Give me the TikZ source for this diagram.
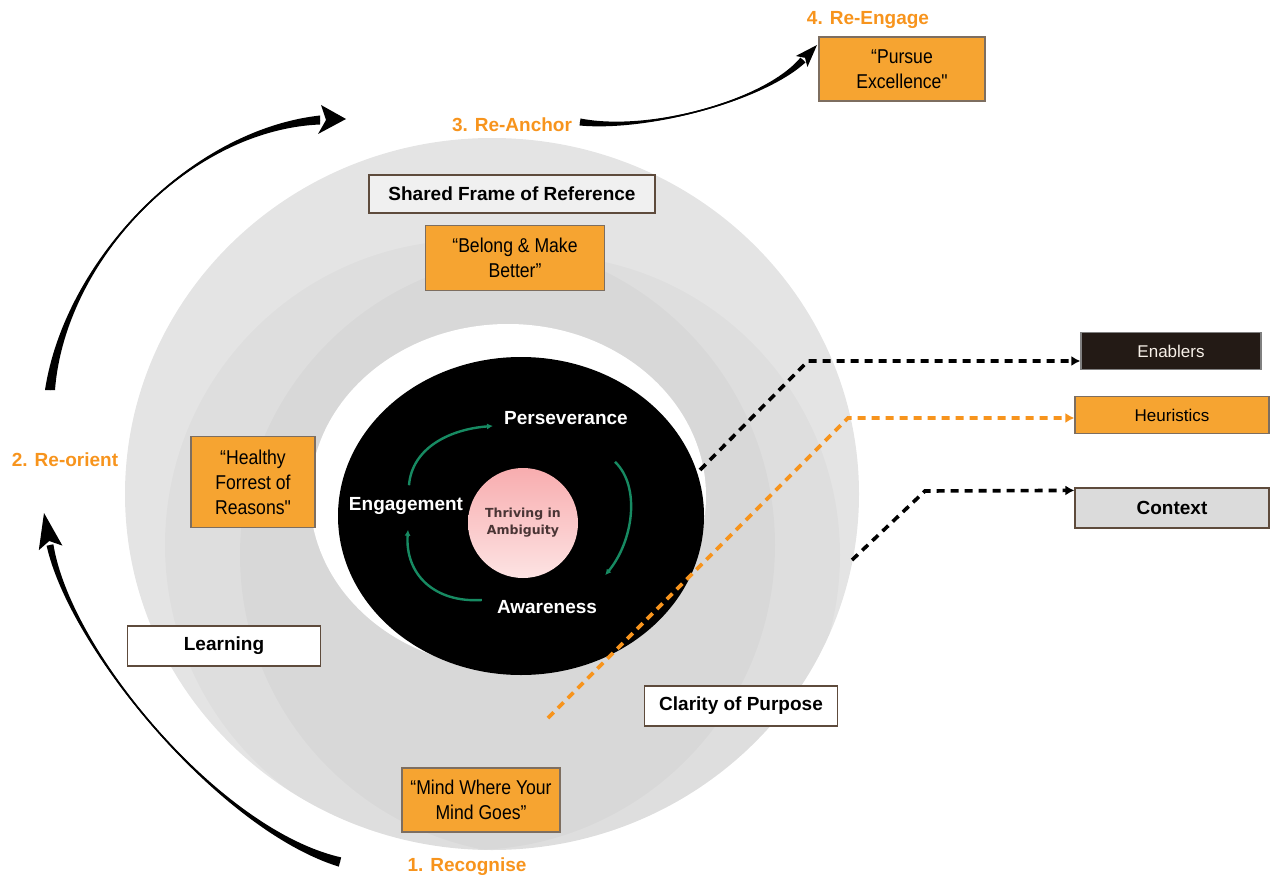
\documentclass[tikz,border=0pt]{standalone}
\usepackage{fontspec}
\setmainfont{Liberation Sans}
\newfontfamily\widesans{DejaVu Sans}
\newfontfamily\narrowsans[FakeStretch=0.88]{Liberation Sans}
\usetikzlibrary{shapes,arrows,arrows.meta}
\usetikzlibrary{calc}

\definecolor{stepor}{HTML}{F7941D}
\definecolor{boxor}{HTML}{F6A431}
\definecolor{boxedge}{HTML}{5E4B3C}
\definecolor{oredge}{HTML}{7D6E60}
\definecolor{ringgrey}{HTML}{E4E4E4}
\definecolor{cyclegreen}{HTML}{178A62}
\definecolor{darkbox}{HTML}{231A15}
\definecolor{pinktop}{HTML}{F8ADAF}
\definecolor{pinkbot}{HTML}{FDE3E3}
\definecolor{pinktext}{HTML}{4A3535}

\tikzstyle{framebox} = [draw=boxedge, line width=1.6pt, fill=white, minimum height=38pt, font=\bfseries\fontsize{19}{22}\selectfont]
\tikzstyle{quotebox} = [draw=oredge, line width=1.2pt, fill=boxor, align=center, font=\narrowsans\fontsize{20}{25}\selectfont]
\tikzstyle{sidebox} = [line width=1.2pt, minimum width=194pt, minimum height=37pt, font=\fontsize{17}{20}\selectfont]
\tikzstyle{stagelabel} = [text=stepor, font=\bfseries\fontsize{19}{22}\selectfont]
\tikzstyle{cycleword} = [text=white, inner sep=2pt, font=\bfseries\fontsize{19}{22}\selectfont]
\tikzstyle{cycleline} = [draw=cyclegreen, line width=2.4pt, -{Latex[length=6pt,width=6pt]}]
\tikzstyle{dashline} = [draw, line width=3.6pt, dash pattern=on 8pt off 6pt, -{Latex[length=9pt,width=10pt]}]

% thick-thin-thick sweep: start, control 1, control 2, end, half width at start, half width at end
\newcommand{\swoosh}[6]{%
  \fill ($(#1)+(#5)$) .. controls (#2) and (#3) .. ($(#4)+(#6)$)
    -- ($(#4)-(#6)$) .. controls (#3) and (#2) .. ($(#1)-(#5)$) -- cycle;
  \draw[line width=1.4pt] (#1) .. controls (#2) and (#3) .. (#4);}

\begin{document}
\begin{tikzpicture} [x=1pt, y=-1pt]

        \useasboundingbox (0,0) rectangle (1277,880);

        % rings
        \fill[ringgrey] (492,494) ellipse [x radius=367, y radius=356];
        \begin{scope}
          \clip (492,494) ellipse [x radius=367, y radius=356];
          \fill[black, opacity=0.022] (470,545) circle [radius=305];
          \fill[black, opacity=0.022] (540,555) circle [radius=300];
        \end{scope}
        \fill[white] (508,496) ellipse [x radius=198, y radius=172];
        \fill[black] (521,516) ellipse [x radius=183, y radius=159];

        % centre cycle
        \node[circle, minimum size=110pt, top color=pinktop, bottom color=pinkbot, text=pinktext, align=center, font=\widesans\bfseries\fontsize{12.5}{17}\selectfont] (thriving) at (523,523) {Thriving in\\Ambiguity};
        \node[cycleword] (persev) at (566,418) {Perseverance};
        \node[cycleword] (engage) at (406,506) {Engagement};
        \node[cycleword] (aware) at (547,607) {Awareness};

        \path [cycleline] ([xshift=3pt,yshift=10pt]engage.north) .. controls +(3,-38) and +(-42,3) .. ([xshift=-9pt,yshift=-8pt]persev.west);
        \path [cycleline] ([xshift=-15pt,yshift=-35pt]persev.south east) .. controls +(26,25) and +(28,-34) .. ([xshift=6pt,yshift=23pt]aware.north east);
        \path [cycleline] ([xshift=-13pt,yshift=7pt]aware.west) .. controls +(-48,3) and +(-3,44) .. ([xshift=2pt,yshift=-13pt]engage.south);

        % boxes on the rings
        \node[framebox, minimum width=286pt, fill=white!94!black] (shared) at (512,194) {Shared Frame of Reference};
        \node[quotebox, minimum width=179pt, minimum height=65pt] (belong) at (515,258) {“Belong \& Make\\Better”};
        \node[quotebox, minimum width=124pt, minimum height=91pt] (healthy) at (253,482) {“Healthy\\Forrest of\\Reasons"};
        \node[framebox, minimum width=193pt, minimum height=40pt] (learning) at (224,646) {Learning};
        \node[framebox, minimum width=193pt, minimum height=40pt] (clarity) at (741,706) {Clarity of Purpose};
        \node[quotebox, minimum width=158pt, minimum height=64pt] (mind) at (481,800) {“Mind Where Your\\Mind Goes”};
        \node[quotebox, minimum width=166pt, minimum height=64pt] (pursue) at (902,69) {“Pursue\\Excellence"};

        % boxes on the right
        \node[sidebox, draw=gray, fill=darkbox, text=white!88!brown, minimum width=180pt] (enablers) at (1171,351) {Enablers};
        \node[sidebox, draw=oredge, fill=boxor] (heuristics) at (1172,415) {Heuristics};
        \node[sidebox, draw=boxedge, fill=black!14, minimum height=40pt, font=\bfseries\fontsize{19}{22}\selectfont] (context) at (1172,508) {Context};

        \coordinate (enStart) at (700,470);
        \coordinate (heStart) at (548,718);
        \coordinate (coStart) at (852,560);
        \path [dashline] (enStart) -- (808,361) -- ([yshift=-10pt]enablers.west);
        \path [dashline, draw=stepor] (heStart) -- (848,418) -- ([yshift=-3pt]heuristics.west);
        \path [dashline] (coStart) -- (925,491) -- ([yshift=-3pt]context.north west);

        % stages
        \node[stagelabel] (reengage) at (868,20) {4. Re-Engage};
        \node[stagelabel] (reanchor) at (512,125) {3. Re-Anchor};
        \node[stagelabel] (reorient) at (65,460) {2. Re-orient};
        \node[stagelabel] (recognise) at (467,867) {1. Recognise};

        \coordinate (recTail) at (340,862);
        \coordinate (recHead) at (50,545);
        \coordinate (oriTail) at (50,390);
        \coordinate (oriHead) at (320,120);
        \coordinate (ancTail) at (580,122);
        \coordinate (ancHead) at (803,60);

        \swoosh{recTail}{220,830}{70,650}{recHead}{1.2,-4.6}{3.4,-0.7}
        \fill (44,513) -- (62.4,545.6) -- (49.2,541) -- (38.8,550.2) -- cycle;
        \swoosh{oriTail}{65,260}{190,130}{oriHead}{5,0}{0,4.5}
        \fill (346,119) -- (318,134) -- (326,120) -- (321,105) -- cycle;
        \swoosh{ancTail}{650,132}{765,100}{ancHead}{-0.5,3.5}{2.5,2.4}
        \fill (817,45) -- (807.4,67) -- (805,57.8) -- (795.8,56) -- cycle;

\end{tikzpicture}
\end{document}
